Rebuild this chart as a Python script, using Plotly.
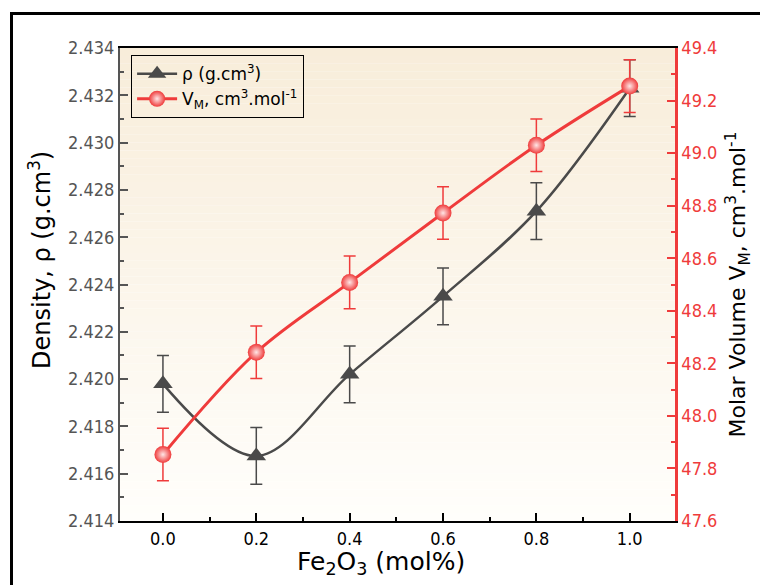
import plotly.graph_objects as go

fe2o3 = [0.0, 0.2, 0.4, 0.6, 0.8, 1.0]
density = [2.4198, 2.41675, 2.4202, 2.4235, 2.4271, 2.4323]
density_err = [0.0012, 0.0012, 0.0012, 0.0012, 0.0012, 0.0012]
molar_volume = [47.853, 48.242, 48.508, 48.772, 49.030, 49.255]
molar_volume_err = [0.1, 0.1, 0.1, 0.1, 0.1, 0.1]

x_ticks = [0.0, 0.2, 0.4, 0.6, 0.8, 1.0]
left_ticks = [2.414, 2.416, 2.418, 2.420, 2.422, 2.424, 2.426, 2.428, 2.430, 2.432, 2.434]
right_ticks = [47.6, 47.8, 48.0, 48.2, 48.4, 48.6, 48.8, 49.0, 49.2, 49.4]

FONT = "DejaVu Sans Condensed, Liberation Sans Narrow, DejaVu Sans"
TFONT = "DejaVu Sans"
GRAY = "#4a4a4a"
RED = "#ef3b3b"

fig = go.Figure()

fig.add_trace(go.Scatter(
    x=fe2o3, y=density, name="ρ (g.cm<sup>3</sup>)",
    mode="lines+markers",
    line=dict(color=GRAY, width=2.5, shape="spline", smoothing=1.0),
    marker=dict(symbol="triangle-up", size=17, color=GRAY),
    error_y=dict(type="data", array=density_err, color=GRAY, thickness=1.5, width=6),
    yaxis="y",
))
fig.add_trace(go.Scatter(
    x=fe2o3, y=molar_volume, name="V<sub>M</sub>, cm<sup>3</sup>.mol<sup>-1</sup>",
    mode="lines+markers",
    line=dict(color=RED, width=3, shape="spline", smoothing=1.0),
    marker=dict(symbol="circle", size=17, color=RED,
                gradient=dict(type="radial", color="#ffe6e6")),
    error_y=dict(type="data", array=molar_volume_err, color=RED, thickness=1.5, width=6),
    yaxis="y2",
))

# plot area: l=120, r=675, t=48, b=521 (px)
PW, PH = 555.0, 473.0

def px_x(p):
    return (p - 120) / PW

def px_y(p):
    return (521 - p) / PH

# vertical gradient background for the plot area
shapes = []
N = 60
top = (248, 237, 218)
bot = (255, 254, 251)
for i in range(N):
    t = i / (N - 1)
    c = tuple(round(top[k] + (bot[k] - top[k]) * t) for k in range(3))
    shapes.append(dict(type="rect", xref="paper", yref="paper",
                       x0=0, x1=1, y0=1 - (i + 1) / N, y1=1 - i / N,
                       fillcolor="rgb(%d,%d,%d)" % c, line=dict(width=0), layer="below"))
# outer frame
shapes.append(dict(type="rect", xref="paper", yref="paper",
                   x0=px_x(11.5), x1=1.3, y0=-0.3, y1=px_y(13.5),
                   line=dict(color="black", width=3), fillcolor="rgba(0,0,0,0)", layer="above"))

annotations = [
    dict(text="Fe<sub>2</sub>O<sub>3</sub> (mol%)", xref="paper", yref="paper",
         x=px_x(381), y=px_y(563), xanchor="center", yanchor="middle", showarrow=False,
         font=dict(family=TFONT, size=25, color="black")),
    dict(text="Density, ρ (g.cm<sup>3</sup>)", xref="paper", yref="paper",
         x=px_x(40), y=px_y(260), xanchor="center", yanchor="middle", showarrow=False,
         textangle=-90, font=dict(family=TFONT, size=24, color="black")),
]

fig.update_layout(
    width=760, height=585,
    margin=dict(l=120, r=85, t=48, b=64),
    paper_bgcolor="white", plot_bgcolor="rgba(0,0,0,0)",
    font=dict(family=FONT, size=18, color="black"),
    shapes=shapes,
    annotations=annotations,
    showlegend=True,
    legend=dict(x=0.02, y=0.985, xanchor="left", yanchor="top",
                bgcolor="rgba(0,0,0,0)", bordercolor="black", borderwidth=1,
                font=dict(family=TFONT, size=17, color="black"),
                tracegroupgap=0, itemwidth=40),
    xaxis=dict(
        range=[-0.092, 1.097], tickvals=x_ticks, ticktext=["%.1f" % v for v in x_ticks],
        ticks="inside", ticklen=8, tickwidth=2, tickcolor="black",
        minor=dict(dtick=0.1, ticks="inside", ticklen=4, tickwidth=2, tickcolor="black"),
        showline=True, linecolor="black", linewidth=2, mirror=True,
        showgrid=False, zeroline=False,
        tickfont=dict(family=FONT, size=18, color="black"),
    ),
    yaxis=dict(
        range=[2.414, 2.434], tickvals=left_ticks, ticktext=["%.3f" % v for v in left_ticks],
        ticks="inside", ticklen=8, tickwidth=2, tickcolor="#555555",
        minor=dict(dtick=0.001, ticks="inside", ticklen=4, tickwidth=2, tickcolor="#555555"),
        showline=True, linecolor="#555555", linewidth=2,
        showgrid=False, zeroline=False,
        tickfont=dict(family=FONT, size=18, color="#555555"),
    ),
    yaxis2=dict(
        overlaying="y", side="right", anchor="x",
        range=[47.6, 49.4], tickvals=right_ticks, ticktext=["%.1f" % v for v in right_ticks],
        ticks="inside", ticklen=8, tickwidth=2, tickcolor=RED,
        minor=dict(dtick=0.1, ticks="inside", ticklen=4, tickwidth=2, tickcolor=RED),
        showline=True, linecolor=RED, linewidth=2.5,
        showgrid=False, zeroline=False,
        tickfont=dict(family=FONT, size=18, color=RED),
        title=dict(text="Molar Volume V<sub>M</sub>, cm<sup>3</sup>.mol<sup>-1</sup>", font=dict(family=TFONT, size=22, color="black"), standoff=14),
    ),
)

fig.write_html("out.html")
